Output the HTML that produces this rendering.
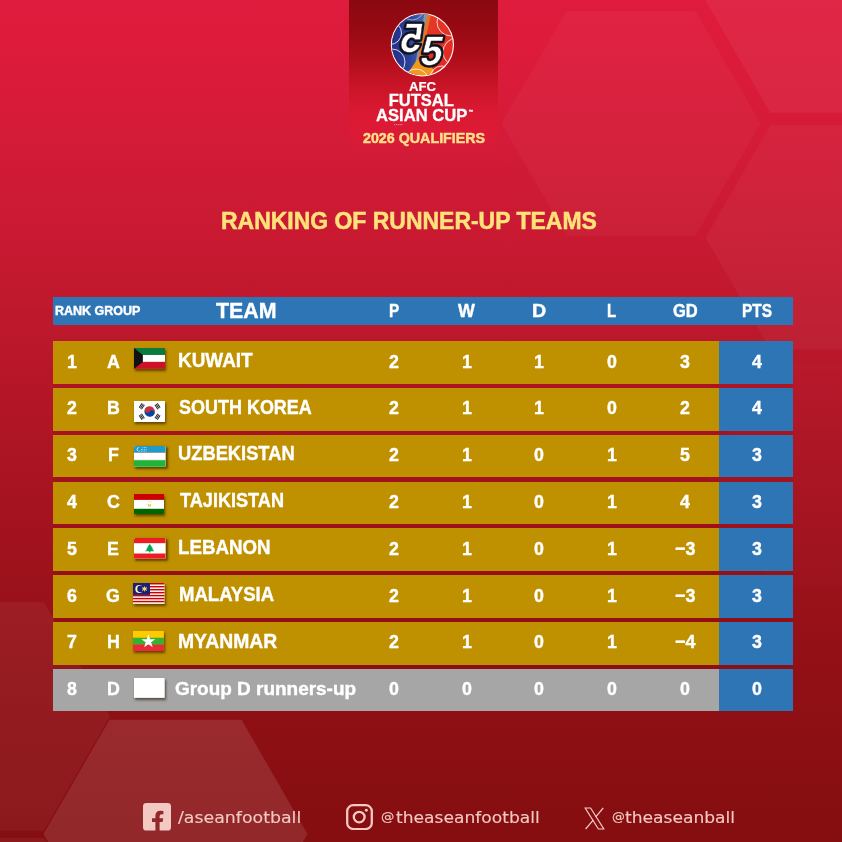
<!DOCTYPE html>
<html lang="en">
<head>
<meta charset="utf-8">
<title>Ranking of Runner-up Teams</title>
<style>
*{box-sizing:border-box}
html,body{margin:0;padding:0;width:842px;height:842px;overflow:hidden}
body{position:relative;font-family:"Liberation Sans", sans-serif;color:#fff;
 background:linear-gradient(180deg,#e01c3e 0%,#df1b3c 3%,#d31b37 18%,#be182c 38%,#a61320 59.5%,#921016 78.5%,#860e10 97.5%,#850e10 100%)}
.bg,.panel,.tbl,.foot{position:absolute;left:0;top:0}
.bg{width:842px;height:842px}
.panel{left:349px;top:0;width:149.2px;height:154px;
 background:linear-gradient(180deg,#8a0810 0%,#980a12 19.5%,#b00e1a 39%,#c81426 55%,#d81830 69.5%,rgba(221,26,53,.95) 84.5%,rgba(219,27,56,0) 100%)}
.t{position:absolute;white-space:nowrap;line-height:1;font-weight:700;transform-origin:0 0;margin:0;padding:0;-webkit-text-stroke:.4px currentColor}
.title{-webkit-text-stroke-width:.5px}
.f{-webkit-text-stroke-width:.1px;font-family:"DejaVu Sans","Liberation Sans",sans-serif}
.lg{-webkit-text-stroke-width:.3px}
.afc{-webkit-text-stroke-width:.2px}
.q{-webkit-text-stroke-width:.5px}
.bar{position:absolute;left:53.3px;width:740px}
.hd{top:296.6px;height:28.8px;background:#2e75b6}
.row{height:42.6px;background:linear-gradient(90deg,#bf9000 0,#bf9000 666.4px,#2e75b6 666.4px,#2e75b6 100%)}
.row.last{height:41.7px;background:linear-gradient(90deg,#a6a6a6 0,#a6a6a6 666.4px,#2e75b6 666.4px,#2e75b6 100%)}
.gap{position:absolute;left:53.3px;width:740px;height:5.22px;background:rgba(110,8,0,.12)}
.fl{position:absolute;overflow:hidden;box-shadow:1.4px 1.8px 2.4px rgba(35,18,0,.6)}
.ic{position:absolute}
</style>
</head>
<body>
<svg class="bg" viewBox="0 0 842 842" aria-hidden="true"><defs><linearGradient id="hg" x1="0" y1="0" x2="0" y2="1"><stop offset="0" stop-color="#fff" stop-opacity=".05"/><stop offset="1" stop-color="#fff" stop-opacity=".02"/></linearGradient></defs><polygon points="760.5,123.5 695.75,235.65 566.25,235.65 501.5,123.5 566.25,11.35 695.75,11.35" fill="#fff" fill-opacity="0.03"/><polygon points="964.5,0.5 899.75,112.65 770.25,112.65 705.5,0.5 770.25,-111.65 899.75,-111.65" fill="#fff" fill-opacity="0.05"/><polygon points="964.5,237.5 899.75,349.65 770.25,349.65 705.5,237.5 770.25,125.35 899.75,125.35" fill="#fff" fill-opacity="0.04"/><polygon points="964.5,474.5 899.75,586.65 770.25,586.65 705.5,474.5 770.25,362.35 899.75,362.35" fill="#fff" fill-opacity="0.012"/><polygon points="307.5,834 241.5,948.32 109.5,948.32 43.5,834 109.5,719.68 241.5,719.68" fill="#fff" fill-opacity="0.11"/><polygon points="110,716.5 44,830.82 -88,830.82 -154,716.5 -88,602.18 44,602.18" fill="#fff" fill-opacity="0.05"/><polygon points="110,952 44,1066.32 -88,1066.32 -154,952 -88,837.68 44,837.68" fill="#fff" fill-opacity="0.05"/></svg>
<div class="panel"></div>
<svg class="ic" style="left:388px;top:10px;width:69px;height:69px" viewBox="0 0 69 69" aria-label="AFC Futsal logo">
<defs><clipPath id="bc"><circle cx="34.4" cy="34.8" r="30.5"/></clipPath>
<linearGradient id="bl" x1="0" y1="0" x2="1" y2="0"><stop offset="0" stop-color="#232c86"/><stop offset=".5" stop-color="#2a3f98"/><stop offset="1" stop-color="#4f7dbd"/></linearGradient>
<linearGradient id="rd" x1="0" y1="0" x2="1" y2="1"><stop offset="0" stop-color="#e8452c"/><stop offset="1" stop-color="#e2231f"/></linearGradient></defs>
<circle cx="34.4" cy="34.8" r="31.6" fill="#fff"/>
<g clip-path="url(#bc)">
<rect x="0" y="0" width="69" height="69" fill="url(#rd)"/>
<path d="M0 0H42L27 69H0Z" fill="url(#bl)"/>
<path d="M37 0H43L31 56L24 69L28 50Z" fill="#8a93a8"/>
<path d="M39.5 4L43 4L31.5 58L28 58Z" fill="#e0752a"/>
<path d="M29 50Q38 50 46 60L42 69H22L20 64Q24 56 29 50Z" fill="#f2981d"/>
<g fill="none" stroke="#fff" stroke-width="1" stroke-opacity=".8">
<circle cx="2" cy="23" r="11.5"/><circle cx="4" cy="52" r="13"/><circle cx="24" cy="-2" r="12" stroke-opacity=".5"/>
<circle cx="63" cy="12" r="14"/><circle cx="69" cy="42" r="14"/><circle cx="54" cy="68" r="12"/><circle cx="28" cy="72" r="13"/>
</g>
</g>
<g font-family="Liberation Sans, sans-serif" font-weight="700" font-size="41" fill="#fff" stroke-linejoin="round" text-anchor="middle">
<g transform="translate(21.1 42.1) skewX(-11) scale(-.93 1)"><text x="0" y="0" stroke="#10131c" stroke-width="4.6">5</text><text x="0" y="0" stroke="#10131c" stroke-width=".5">5</text></g>
<g transform="translate(41.7 54.9) skewX(-11) scale(.95 1)"><text x="0" y="0" stroke="#10131c" stroke-width="4.6">5</text><text x="0" y="0" stroke="#10131c" stroke-width=".5">5</text></g>
</g>
</svg>
<div class="logo-text"><span class="t lg afc" style="left:409.3px;top:81.2px;font-size:12.81px;transform:scaleX(1.0246)">AFC</span><span class="t lg" style="left:388.7px;top:93px;font-size:16.55px;transform:scaleX(1)">FUTSAL</span><span class="t lg" style="left:376.2px;top:107px;font-size:16.4px;transform:scaleX(1.013)">ASIAN CUP</span><span class="t lg" style="left:468.6px;top:109.6px;font-size:4.35px;transform:scaleX(1);font-weight:400">™</span><span class="t lg q" style="left:362.5px;top:131px;font-size:14.68px;transform:scaleX(0.9725);color:#ffdf8a">2026 QUALIFIERS</span><span class="t" style="left:394.2px;top:124px;font-size:3px;letter-spacing:.7px;color:#fff;opacity:.7;-webkit-text-stroke-width:0">&bull;&bull;&bull;&bull;&bull;</span></div>
<h1 style="margin:0;font-size:inherit"><span class="t title" style="left:221.01px;top:210px;font-size:23.17px;transform:scaleX(0.9914);color:#ffe27a">RANKING OF RUNNER-UP TEAMS</span></h1>
<div class="tbl" role="table">
<div class="bar hd" role="row"></div>
<span class="t h" style="left:55.3px;top:305.1px;font-size:12.37px;transform:scaleX(1.0105)">RANK GROUP</span><span class="t h" style="left:215.7px;top:299px;font-size:22.73px;transform:scaleX(0.9411)">TEAM</span><span class="t h" style="left:388.93px;top:302.5px;font-size:17.55px;transform:scaleX(0.8727)">P</span><span class="t h" style="left:457.8px;top:302.5px;font-size:17.55px;transform:scaleX(1.0176)">W</span><span class="t h" style="left:531.78px;top:302.5px;font-size:17.55px;transform:scaleX(1.1182)">D</span><span class="t h" style="left:607.45px;top:302.5px;font-size:17.55px;transform:scaleX(0.85)">L</span><span class="t h" style="left:672.7px;top:302.5px;font-size:17.55px;transform:scaleX(0.9396)">GD</span><span class="t h" style="left:742.42px;top:302.5px;font-size:17.55px;transform:scaleX(0.8767)">PTS</span>
<div class="gap" style="top:383.3px"></div>
<div class="bar row" role="row" style="top:341.2px"></div>
<svg class="fl" style="left:134.1px;top:348px;width:31.3px;height:20.8px" viewBox="0 0 60 40" preserveAspectRatio="none"><rect width="60" height="13.4" fill="#0a7a3d"/><rect y="13.4" width="60" height="13.3" fill="#fff"/><rect y="26.7" width="60" height="13.3" fill="#ce1126"/><path d="M0 0L17 13.4V26.7L0 40Z" fill="#111"/></svg>
<span class="t r" style="left:67.35px;top:351.5px;font-size:19.14px;transform:scaleX(0.93)">1</span><span class="t r" style="left:106.88px;top:351.5px;font-size:19.14px;transform:scaleX(0.93)">A</span><span class="t n" style="left:178.35px;top:350.8px;font-size:19.86px;transform:scaleX(0.9528)">KUWAIT</span><span class="t r" style="left:389.45px;top:351.5px;font-size:19.14px;transform:scaleX(0.93)">2</span><span class="t r" style="left:461.95px;top:351.5px;font-size:19.14px;transform:scaleX(0.93)">1</span><span class="t r" style="left:534.45px;top:351.5px;font-size:19.14px;transform:scaleX(0.93)">1</span><span class="t r" style="left:607.35px;top:351.5px;font-size:19.14px;transform:scaleX(0.93)">0</span><span class="t r" style="left:679.95px;top:351.5px;font-size:19.14px;transform:scaleX(0.93)">3</span><span class="t r" style="left:751.65px;top:351.5px;font-size:19.14px;transform:scaleX(0.93)">4</span>
<div class="gap" style="top:430.12px"></div>
<div class="bar row" role="row" style="top:388.02px"></div>
<svg class="fl" style="left:134.1px;top:400.6px;width:31.3px;height:21px" viewBox="0 0 60 40" preserveAspectRatio="none"><rect width="60" height="40" fill="#fff"/><g transform="translate(30 20) rotate(33.7)"><path d="M-10 0A10 10 0 0 1 10 0Z" fill="#cd2e3a"/><path d="M-10 0A10 10 0 0 0 10 0Z" fill="#0047a0"/><circle cx="-5" cy="0" r="5" fill="#cd2e3a"/><circle cx="5" cy="0" r="5" fill="#0047a0"/></g><g transform="translate(30 20) rotate(33.7)" fill="#222"><rect x="14.5" y="-5" width="1.8" height="10"/><rect x="17.2" y="-5" width="1.8" height="10"/><rect x="19.9" y="-5" width="1.8" height="10"/></g><g transform="translate(30 20) rotate(146.3)" fill="#222"><rect x="14.5" y="-5" width="1.8" height="10"/><rect x="17.2" y="-5" width="1.8" height="10"/><rect x="19.9" y="-5" width="1.8" height="10"/></g><g transform="translate(30 20) rotate(213.7)" fill="#222"><rect x="14.5" y="-5" width="1.8" height="10"/><rect x="17.2" y="-5" width="1.8" height="10"/><rect x="19.9" y="-5" width="1.8" height="10"/></g><g transform="translate(30 20) rotate(326.3)" fill="#222"><rect x="14.5" y="-5" width="1.8" height="10"/><rect x="17.2" y="-5" width="1.8" height="10"/><rect x="19.9" y="-5" width="1.8" height="10"/></g></svg>
<span class="t r" style="left:67.35px;top:398.32px;font-size:19.14px;transform:scaleX(0.93)">2</span><span class="t r" style="left:106.88px;top:398.32px;font-size:19.14px;transform:scaleX(0.93)">B</span><span class="t n" style="left:179px;top:397.62px;font-size:19.86px;transform:scaleX(0.905)">SOUTH KOREA</span><span class="t r" style="left:389.45px;top:398.32px;font-size:19.14px;transform:scaleX(0.93)">2</span><span class="t r" style="left:461.95px;top:398.32px;font-size:19.14px;transform:scaleX(0.93)">1</span><span class="t r" style="left:534.45px;top:398.32px;font-size:19.14px;transform:scaleX(0.93)">1</span><span class="t r" style="left:607.35px;top:398.32px;font-size:19.14px;transform:scaleX(0.93)">0</span><span class="t r" style="left:679.95px;top:398.32px;font-size:19.14px;transform:scaleX(0.93)">2</span><span class="t r" style="left:751.65px;top:398.32px;font-size:19.14px;transform:scaleX(0.93)">4</span>
<div class="gap" style="top:476.94px"></div>
<div class="bar row" role="row" style="top:434.84px"></div>
<svg class="fl" style="left:134.1px;top:446px;width:31.5px;height:20.8px;border-radius:1.6px" viewBox="0 0 60 40" preserveAspectRatio="none"><rect width="60" height="40" fill="#fff"/><rect width="60" height="12.6" fill="#1f9bcb"/><rect y="12.6" width="60" height=".7" fill="#ce1126" fill-opacity=".7"/><rect y="26.7" width="60" height=".7" fill="#ce1126" fill-opacity=".7"/><rect y="27.4" width="60" height="12.6" fill="#1eb53a"/><circle cx="9" cy="6.3" r="3.8" fill="#fff"/><circle cx="10.4" cy="6.3" r="3.8" fill="#1f9bcb"/><circle cx="17" cy="3" r="0.9" fill="#fff"/><circle cx="20" cy="3" r="0.9" fill="#fff"/><circle cx="23" cy="3" r="0.9" fill="#fff"/><circle cx="14" cy="6.3" r="0.9" fill="#fff"/><circle cx="17" cy="6.3" r="0.9" fill="#fff"/><circle cx="20" cy="6.3" r="0.9" fill="#fff"/><circle cx="23" cy="6.3" r="0.9" fill="#fff"/><circle cx="11" cy="9.6" r="0.9" fill="#fff"/><circle cx="14" cy="9.6" r="0.9" fill="#fff"/><circle cx="17" cy="9.6" r="0.9" fill="#fff"/><circle cx="20" cy="9.6" r="0.9" fill="#fff"/><circle cx="23" cy="9.6" r="0.9" fill="#fff"/></svg>
<span class="t r" style="left:67.35px;top:445.14px;font-size:19.14px;transform:scaleX(0.93)">3</span><span class="t r" style="left:107.87px;top:445.14px;font-size:19.14px;transform:scaleX(0.93)">F</span><span class="t n" style="left:178.38px;top:444.44px;font-size:19.86px;transform:scaleX(0.922)">UZBEKISTAN</span><span class="t r" style="left:389.45px;top:445.14px;font-size:19.14px;transform:scaleX(0.93)">2</span><span class="t r" style="left:461.95px;top:445.14px;font-size:19.14px;transform:scaleX(0.93)">1</span><span class="t r" style="left:534.45px;top:445.14px;font-size:19.14px;transform:scaleX(0.93)">0</span><span class="t r" style="left:607.35px;top:445.14px;font-size:19.14px;transform:scaleX(0.93)">1</span><span class="t r" style="left:679.95px;top:445.14px;font-size:19.14px;transform:scaleX(0.93)">5</span><span class="t r" style="left:751.65px;top:445.14px;font-size:19.14px;transform:scaleX(0.93)">3</span>
<div class="gap" style="top:523.76px"></div>
<div class="bar row" role="row" style="top:481.66px"></div>
<svg class="fl" style="left:133.5px;top:493.6px;width:30.9px;height:20.7px" viewBox="0 0 60 40" preserveAspectRatio="none"><rect width="60" height="40" fill="#fff"/><rect width="60" height="11.4" fill="#cc0000"/><rect y="28.6" width="60" height="11.4" fill="#006600"/><path d="M26.5 24.5Q30 22.8 33.5 24.5L33 22Q34.5 19.5 32 18.2Q31.5 20 30 20.6Q28.5 20 28 18.2Q25.5 19.5 27 22Z" fill="#e9cf6a"/><circle cx="24.5" cy="19.5" r="0.8" fill="#e9cf6a"/><circle cx="26" cy="16.6" r="0.8" fill="#e9cf6a"/><circle cx="28.4" cy="14.8" r="0.8" fill="#e9cf6a"/><circle cx="30" cy="14.2" r="0.8" fill="#e9cf6a"/><circle cx="31.6" cy="14.8" r="0.8" fill="#e9cf6a"/><circle cx="34" cy="16.6" r="0.8" fill="#e9cf6a"/><circle cx="35.5" cy="19.5" r="0.8" fill="#e9cf6a"/></svg>
<span class="t r" style="left:67.35px;top:491.96px;font-size:19.14px;transform:scaleX(0.93)">4</span><span class="t r" style="left:106.88px;top:491.96px;font-size:19.14px;transform:scaleX(0.93)">C</span><span class="t n" style="left:179.6px;top:491.26px;font-size:19.86px;transform:scaleX(0.9122)">TAJIKISTAN</span><span class="t r" style="left:389.45px;top:491.96px;font-size:19.14px;transform:scaleX(0.93)">2</span><span class="t r" style="left:461.95px;top:491.96px;font-size:19.14px;transform:scaleX(0.93)">1</span><span class="t r" style="left:534.45px;top:491.96px;font-size:19.14px;transform:scaleX(0.93)">0</span><span class="t r" style="left:607.35px;top:491.96px;font-size:19.14px;transform:scaleX(0.93)">1</span><span class="t r" style="left:679.95px;top:491.96px;font-size:19.14px;transform:scaleX(0.93)">4</span><span class="t r" style="left:751.65px;top:491.96px;font-size:19.14px;transform:scaleX(0.93)">3</span>
<div class="gap" style="top:570.58px"></div>
<div class="bar row" role="row" style="top:528.48px"></div>
<svg class="fl" style="left:134.1px;top:538.4px;width:31.5px;height:20.7px;border-radius:1.6px" viewBox="0 0 60 40" preserveAspectRatio="none"><rect width="60" height="40" fill="#fff"/><rect width="60" height="10" fill="#ed1c24"/><rect y="30" width="60" height="10" fill="#ed1c24"/><path d="M30 11.5L33 15H31.8L35.5 18.5H33.4L37.5 22H34.6L39 25.6H31.2V28.2H28.8V25.6H21L25.4 22H22.5L26.6 18.5H24.5L28.2 15H27Z" fill="#00a651"/></svg>
<span class="t r" style="left:67.35px;top:538.78px;font-size:19.14px;transform:scaleX(0.93)">5</span><span class="t r" style="left:107.37px;top:538.78px;font-size:19.14px;transform:scaleX(0.93)">E</span><span class="t n" style="left:178.36px;top:538.08px;font-size:19.86px;transform:scaleX(0.9427)">LEBANON</span><span class="t r" style="left:389.45px;top:538.78px;font-size:19.14px;transform:scaleX(0.93)">2</span><span class="t r" style="left:461.95px;top:538.78px;font-size:19.14px;transform:scaleX(0.93)">1</span><span class="t r" style="left:534.45px;top:538.78px;font-size:19.14px;transform:scaleX(0.93)">0</span><span class="t r" style="left:607.35px;top:538.78px;font-size:19.14px;transform:scaleX(0.93)">1</span><span class="t r" style="left:674.76px;top:538.78px;font-size:19.14px;transform:scaleX(0.93)">−3</span><span class="t r" style="left:751.65px;top:538.78px;font-size:19.14px;transform:scaleX(0.93)">3</span>
<div class="gap" style="top:617.4px"></div>
<div class="bar row" role="row" style="top:575.3px"></div>
<svg class="fl" style="left:133.3px;top:583.2px;width:31.4px;height:20.8px" viewBox="0 0 60 40" preserveAspectRatio="none"><rect width="60" height="40" fill="#fff"/><rect y="0" width="60" height="2.86" fill="#cc0001"/><rect y="5.71" width="60" height="2.86" fill="#cc0001"/><rect y="11.43" width="60" height="2.86" fill="#cc0001"/><rect y="17.14" width="60" height="2.86" fill="#cc0001"/><rect y="22.86" width="60" height="2.86" fill="#cc0001"/><rect y="28.57" width="60" height="2.86" fill="#cc0001"/><rect y="34.29" width="60" height="2.86" fill="#cc0001"/><rect width="32.5" height="22.9" fill="#1b1f7a"/><circle cx="12" cy="11.4" r="7.6" fill="#fff3b0"/><circle cx="14.6" cy="11.4" r="6.4" fill="#1b1f7a"/><path d="M22 5.4L23.3 9.3L27 7.6L25.3 11.4L27 15.2L23.3 13.5L22 17.4L20.7 13.5L17 15.2L18.7 11.4L17 7.6L20.7 9.3Z" fill="#e8e060"/></svg>
<span class="t r" style="left:67.35px;top:585.6px;font-size:19.14px;transform:scaleX(0.93)">6</span><span class="t r" style="left:106.38px;top:585.6px;font-size:19.14px;transform:scaleX(0.93)">G</span><span class="t n" style="left:178.67px;top:584.9px;font-size:19.86px;transform:scaleX(0.9336)">MALAYSIA</span><span class="t r" style="left:389.45px;top:585.6px;font-size:19.14px;transform:scaleX(0.93)">2</span><span class="t r" style="left:461.95px;top:585.6px;font-size:19.14px;transform:scaleX(0.93)">1</span><span class="t r" style="left:534.45px;top:585.6px;font-size:19.14px;transform:scaleX(0.93)">0</span><span class="t r" style="left:607.35px;top:585.6px;font-size:19.14px;transform:scaleX(0.93)">1</span><span class="t r" style="left:674.76px;top:585.6px;font-size:19.14px;transform:scaleX(0.93)">−3</span><span class="t r" style="left:751.65px;top:585.6px;font-size:19.14px;transform:scaleX(0.93)">3</span>
<div class="gap" style="top:664.22px"></div>
<div class="bar row" role="row" style="top:622.12px"></div>
<svg class="fl" style="left:133.3px;top:630.7px;width:30.8px;height:20.4px" viewBox="0 0 60 40" preserveAspectRatio="none"><rect width="60" height="13.4" fill="#fecb00"/><rect y="13.4" width="60" height="13.3" fill="#34b233"/><rect y="26.7" width="60" height="13.3" fill="#ea2839"/><path d="M30 6.5L33.2 16.3H43.5L35.2 22.3L38.4 32.1L30 26.1L21.6 32.1L24.8 22.3L16.5 16.3H26.8Z" fill="#fff"/></svg>
<span class="t r" style="left:67.35px;top:632.42px;font-size:19.14px;transform:scaleX(0.93)">7</span><span class="t r" style="left:106.88px;top:632.42px;font-size:19.14px;transform:scaleX(0.93)">H</span><span class="t n" style="left:178.43px;top:631.72px;font-size:19.86px;transform:scaleX(0.9745)">MYANMAR</span><span class="t r" style="left:389.45px;top:632.42px;font-size:19.14px;transform:scaleX(0.93)">2</span><span class="t r" style="left:461.95px;top:632.42px;font-size:19.14px;transform:scaleX(0.93)">1</span><span class="t r" style="left:534.45px;top:632.42px;font-size:19.14px;transform:scaleX(0.93)">0</span><span class="t r" style="left:607.35px;top:632.42px;font-size:19.14px;transform:scaleX(0.93)">1</span><span class="t r" style="left:674.76px;top:632.42px;font-size:19.14px;transform:scaleX(0.93)">−4</span><span class="t r" style="left:751.65px;top:632.42px;font-size:19.14px;transform:scaleX(0.93)">3</span>
<div class="bar row last" role="row" style="top:668.94px"></div>
<svg class="fl" style="left:134.1px;top:678px;width:30.5px;height:19.8px" viewBox="0 0 60 40" preserveAspectRatio="none"><rect width="60" height="40" fill="#fff"/></svg>
<span class="t r" style="left:67.35px;top:679.24px;font-size:19.14px;transform:scaleX(0.93)">8</span><span class="t r" style="left:106.88px;top:679.24px;font-size:19.14px;transform:scaleX(0.93)">D</span><span class="t n" style="left:174.8px;top:678.64px;font-size:19.14px;transform:scaleX(0.9909)">Group D runners-up</span><span class="t r" style="left:389.45px;top:679.24px;font-size:19.14px;transform:scaleX(0.93)">0</span><span class="t r" style="left:461.95px;top:679.24px;font-size:19.14px;transform:scaleX(0.93)">0</span><span class="t r" style="left:534.45px;top:679.24px;font-size:19.14px;transform:scaleX(0.93)">0</span><span class="t r" style="left:607.35px;top:679.24px;font-size:19.14px;transform:scaleX(0.93)">0</span><span class="t r" style="left:679.95px;top:679.24px;font-size:19.14px;transform:scaleX(0.93)">0</span><span class="t r" style="left:751.65px;top:679.24px;font-size:19.14px;transform:scaleX(0.93)">0</span>
</div>
<div class="foot"><svg class="ic" style="left:143px;top:803px;width:28px;height:27.6px" viewBox="0 0 28 28" preserveAspectRatio="none" aria-label="Facebook">
<path fill="#f3c9c3" fill-rule="evenodd" d="M3.4 0H24.6Q28 0 28 3.4V24.6Q28 28 24.6 28H16.6V19.4H19.6L20.2 15.6H16.6V13.4Q16.6 11.4 18.7 11.4H20.4V8.1Q19 7.8 17.6 7.8Q12.4 7.8 12.4 13V15.6H9V19.4H12.4V28H3.4Q0 28 0 24.6V3.4Q0 0 3.4 0Z"/></svg><svg class="ic" style="left:346px;top:804px;width:27px;height:26.2px" viewBox="0 0 27 27" preserveAspectRatio="none" aria-label="Instagram" fill="none" stroke="#f3c9c3">
<rect x="1.2" y="1.2" width="24.6" height="24.6" rx="6.2" stroke-width="2.3"/><circle cx="13.2" cy="13.5" r="5.4" stroke-width="2.3"/><circle cx="20.3" cy="6.5" r="1.5" fill="#f3c9c3" stroke="none"/></svg><svg class="ic" style="left:583.6px;top:807.4px;width:21px;height:23px" viewBox="0 0 21 23" preserveAspectRatio="none" aria-label="X" fill="none" stroke="#f3c9c3" stroke-width="1.2" stroke-linejoin="miter">
<path d="M1.2 1H6.6L19.8 22H14.4Z"/><path d="M19.2 1L11.6 10.2M9.4 12.8L1.6 22"/></svg><span class="t f" style="left:177.8px;top:810.8px;font-size:15.53px;transform:scaleX(1.1184);color:#f3c9c3;font-weight:400">/aseanfootball</span><span class="t f" style="left:381.3px;top:811px;font-size:12.2px;transform:scaleX(1.0917);color:#f3c9c3;font-weight:400">@</span><span class="t f" style="left:395.5px;top:810.8px;font-size:15.53px;transform:scaleX(1.1019);color:#f3c9c3;font-weight:400">theaseanfootball</span><span class="t f" style="left:611.5px;top:811px;font-size:12.2px;transform:scaleX(1.0583);color:#f3c9c3;font-weight:400">@</span><span class="t f" style="left:625.2px;top:810.8px;font-size:15.53px;transform:scaleX(1.1013);color:#f3c9c3;font-weight:400">theaseanball</span></div>
</body>
</html>
